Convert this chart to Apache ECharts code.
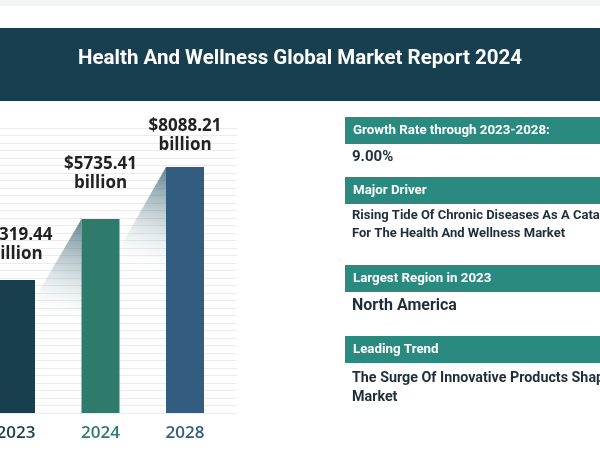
<!DOCTYPE html>
<html>
<head>
<meta charset="utf-8">
<script src="https://cdn.jsdelivr.net/npm/echarts@6/dist/echarts.min.js"></script>
<style>html,body{margin:0;padding:0;background:#fff}#c{width:600px;height:450px}</style>
</head>
<body>
<div id="c"></div>
<script>
// ---- data ----
var title = 'Health And Wellness Global Market Report 2024';
var years = ['2023', '2024', '2028'];
var marketValues = ['$5319.44', '$5735.41', '$8088.21'];   // label text (USD billion)
var barHeights = [44.3, 64.7, 82.0];                        // drawn bar heights (index 0-100)
var yearColors = ['#193f4e', '#2e7a6b', '#335d80'];
var panelHeaders = ['Growth Rate through 2023-2028:', 'Major Driver', 'Largest Region in 2023', 'Leading Trend'];
var panelBodies = [
  ['9.00%'],
  ['Rising Tide Of Chronic Diseases As A Catalyst', 'For The Health And Wellness Market'],
  ['North America'],
  ['The Surge Of Innovative Products Shaping The', 'Market']
];

// ---- styling ----
var BAR_W = 38;
var labelGaps = [16, 26, 12];

var chart = echarts.init(document.getElementById('c'), null, {renderer: 'canvas'});

var graphics = [
  {type: 'rect', shape: {x: 0, y: 0, width: 600, height: 6}, style: {fill: '#f4f5f5'}, z: 0},
  {type: 'rect', shape: {x: 0, y: 28, width: 600, height: 73}, style: {fill: '#173f4f'}, z: 0},
  {type: 'text', x: 300, y: 59, style: {text: title, fill: '#ffffff', font: 'bold 20.5px Roboto', align: 'center', verticalAlign: 'middle'}, z: 1}
];
var headerTops = [117, 177, 265, 336];
var bodyTops = [157, 216, 306, 378];
var bodyFonts = ['bold 15px Roboto', 'bold 13px Roboto', 'bold 16px Roboto', 'bold 14.3px Roboto'];
var bodyLine = [18, 18, 18, 19];
for (var k = 0; k < panelHeaders.length; k++) {
  graphics.push({type: 'rect', shape: {x: 345, y: headerTops[k], width: 260, height: 27}, style: {fill: '#2a8a7f'}, z: 0});
  graphics.push({type: 'text', x: 353, y: headerTops[k] + 14, style: {text: panelHeaders[k], fill: '#ffffff', font: 'bold 13.3px Roboto', verticalAlign: 'middle'}, z: 1});
  for (var j = 0; j < panelBodies[k].length; j++) {
    graphics.push({type: 'text', x: 352, y: bodyTops[k] + j * bodyLine[k], style: {text: panelBodies[k][j], fill: '#1d2f3b', font: bodyFonts[k], verticalAlign: 'middle'}, z: 1});
  }
}

var option = {
  backgroundColor: '#ffffff',
  animation: false,
  graphic: graphics,
  grid: [
    {left: -26.25, top: 113, width: 253.5, height: 300, outerBoundsMode: 'none', containLabel: false},
    {left: 0, top: 128, width: 237, height: 285, outerBoundsMode: 'none', containLabel: false}
  ],
  xAxis: [
    {type: 'category', gridIndex: 0, data: years,
     axisLine: {show: false}, axisTick: {show: false},
     axisLabel: {margin: 12, fontFamily: 'Open Sans', fontWeight: 600, fontSize: 17,
       color: function (v, i) { return yearColors[i]; }}},
    {type: 'value', gridIndex: 1, min: 0, max: 1, show: false}
  ],
  yAxis: [
    {type: 'value', gridIndex: 0, min: 0, max: 100, show: false},
    {type: 'value', gridIndex: 1, min: 0, max: 38, interval: 1,
     axisLabel: {show: false}, axisLine: {show: false}, axisTick: {show: false},
     splitLine: {show: true, lineStyle: {color: '#ebebeb', width: 1}}}
  ],
  series: [
    {type: 'custom', xAxisIndex: 0, yAxisIndex: 0, z: 1, silent: true,
     data: [[0, 1], [1, 2]],
     renderItem: function (params, api) {
       var a = api.value(0), b = api.value(1);
       var p1 = api.coord([a, barHeights[a]]);
       var p2 = api.coord([b, barHeights[b]]);
       var xr = p1[0] + BAR_W / 2 + 3;
       var xl = p2[0] - BAR_W / 2;
       var y1 = p1[1] + 13 + a * 11;
       return {
         type: 'polygon',
         shape: {points: [[xr, y1], [xl, p2[1]], [xl, p2[1] + 95], [xr, y1 + 30]]},
         style: {fill: new echarts.graphic.LinearGradient(1, 0, 0.3, 1, [
           {offset: 0, color: 'rgba(47,88,104,0.75)'},
           {offset: 0.5, color: 'rgba(120,150,160,0.35)'},
           {offset: 1, color: 'rgba(255,255,255,0)'}
         ])}
       };
     }},
    {type: 'bar', xAxisIndex: 0, yAxisIndex: 0, barWidth: BAR_W, z: 2,
     data: barHeights.map(function (h, i) {
       return {value: h, itemStyle: {color: yearColors[i]}, label: {distance: labelGaps[i]}};
     }),
     label: {show: true, position: 'top',
       formatter: function (p) { return marketValues[p.dataIndex] + '\nbillion'; },
       fontFamily: 'Open Sans', fontWeight: 'bold', fontSize: 17, lineHeight: 19, color: '#222222', align: 'center'}}
  ]
};
chart.setOption(option);
</script>
</body>
</html>
